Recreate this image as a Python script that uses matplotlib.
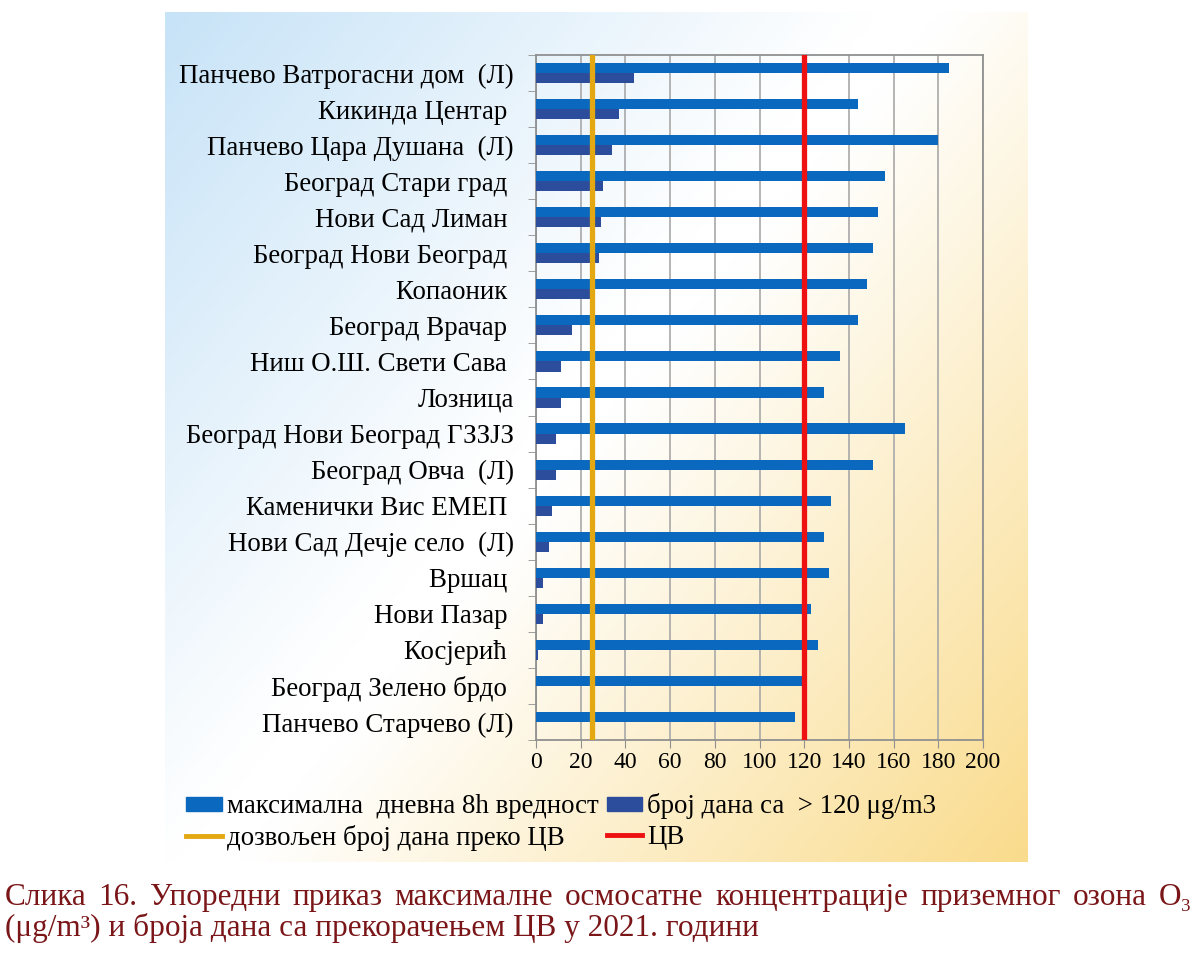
import numpy as np
import matplotlib
matplotlib.use("Agg")
import matplotlib.pyplot as plt
from matplotlib.patches import Patch
from matplotlib.lines import Line2D
from matplotlib.ticker import FixedLocator

# станице (одозго надоле)
stanice = [
    "Панчево Ватрогасни дом  (Л)",
    "Кикинда Центар ",
    "Панчево Цара Душана  (Л)",
    "Београд Стари град ",
    "Нови Сад Лиман ",
    "Београд Нови Београд ",
    "Копаоник ",
    "Београд Врачар ",
    "Ниш О.Ш. Свети Сава ",
    "Лозница",
    "Београд Нови Београд ГЗЗЈЗ",
    "Београд Овча  (Л)",
    "Каменички Вис ЕМЕП ",
    "Нови Сад Дечје село  (Л)",
    "Вршац ",
    "Нови Пазар ",
    "Косјерић ",
    "Београд Зелено брдо ",
    "Панчево Старчево (Л)",
]
max_8h = [185, 144, 180, 156, 153, 151, 148, 144, 136, 129, 165, 151, 132, 129, 131, 123, 126, 119, 116]
broj_dana = [44, 37, 34, 30, 29, 28, 24, 16, 11, 11, 9, 9, 7, 6, 3, 3, 1, 0, 0]
dozvoljen_broj = 25
cv = 120
x_ticks = [0, 20, 40, 60, 80, 100, 120, 140, 160, 180, 200]

leg_labels = ["максимална  дневна 8h вредност", "број дана са  > 120 μg/m3",
              "дозвољен број дана преко ЦВ", "ЦВ"]
caption1 = "Слика 16. Упоредни приказ максималне осмосатне концентрације приземног озона O₃"
caption2 = "(μg/m³) и броја дана са прекорачењем ЦВ у 2021. години"

SERIF = ["Liberation Serif", "DejaVu Serif"]
plt.rcParams["font.family"] = SERIF

W, H = 1200, 957
fig = plt.figure(figsize=(W / 100, H / 100), dpi=100)
fig.patch.set_facecolor("white")

# позадина са преливом
bg = fig.add_axes([165 / W, 1 - 862 / H, 863 / W, 850 / H], zorder=0)
ny, nx = 200, 200
u = np.linspace(0, 1, nx)[None, :]
v = np.linspace(0, 1, ny)[:, None]
t = 0.55 * u + 0.45 * v
blue = np.array([0.78, 0.89, 0.97])
white = np.array([1.0, 1.0, 1.0])
yellow = np.array([0.98, 0.86, 0.55])
a = np.clip((0.45 - t) / 0.45, 0, 1)[..., None]
b = np.clip((t - 0.5) / 0.5, 0, 1)[..., None]
img = white * (1 - a - b) + blue * a + yellow * b
bg.imshow(img, aspect="auto", extent=[0, 1, 0, 1], interpolation="bicubic")
bg.axis("off")

ax = fig.add_axes([536 / W, 1 - 740 / H, 447 / W, 685 / H], zorder=1)
ax.patch.set_alpha(0)

y = np.arange(len(stanice))
h = 0.28
ax.barh(y - h / 2, max_8h, height=h, color="#0A69BE", zorder=3)
ax.barh(y + h / 2, broj_dana, height=h, color="#2C4D9B", zorder=3)
ax.axvline(dozvoljen_broj, color="#E3A812", lw=3.8, zorder=4)
ax.axvline(cv, color="#EE1111", lw=3.8, zorder=4)

ax.set_xlim(0, 200)
ax.set_ylim(len(stanice) - 0.5, -0.5)
ax.set_xticks(x_ticks)
ax.set_xticklabels([str(v) for v in x_ticks], fontsize=17)
ax.set_yticks(y)
ax.set_yticklabels(stanice, fontsize=19.4)
ax.yaxis.set_minor_locator(FixedLocator(np.arange(len(stanice) + 1) - 0.5))
ax.tick_params(axis="y", which="major", length=0, pad=16)
ax.tick_params(axis="y", which="minor", length=6, color="#909090", direction="out")
ax.tick_params(axis="x", length=6, color="#909090", pad=3)
ax.grid(axis="x", color="#A8A8A8", lw=1.2, zorder=1)
for s in ax.spines.values():
    s.set_color("#909090")
    s.set_linewidth(1.3)

handles = [Patch(color="#0A69BE"), Line2D([], [], color="#E3A812", lw=3.5),
           Patch(color="#2C4D9B"), Line2D([], [], color="#EE1111", lw=3.5)]
fig.legend(handles, [leg_labels[0], leg_labels[2], leg_labels[1], leg_labels[3]],
           ncol=2, loc="upper left", bbox_to_anchor=(173 / W, 1 - 780 / H),
           frameon=False, fontsize=19.4, handlelength=1.3, handleheight=0.45,
           handletextpad=0.2, columnspacing=0.3, labelspacing=0.2, borderpad=0)

# потпис, први ред поравнат обострано
red = "#7A1518"
renderer = fig.canvas.get_renderer()
words = caption1.split(" ")
objs = [fig.text(0, 1 - 905 / H, w, fontsize=22.5, color=red, va="baseline") for w in words]
widths = [o.get_window_extent(renderer).width for o in objs]
x0, x1 = 5, 1192
gap = (x1 - x0 - sum(widths)) / (len(words) - 1)
xp = x0
for o, wd in zip(objs, widths):
    o.set_x(xp / W)
    xp += wd + gap
fig.text(5 / W, 1 - 936 / H, caption2, fontsize=22.5, color=red, va="baseline")

fig.savefig("out.png", dpi=100)
